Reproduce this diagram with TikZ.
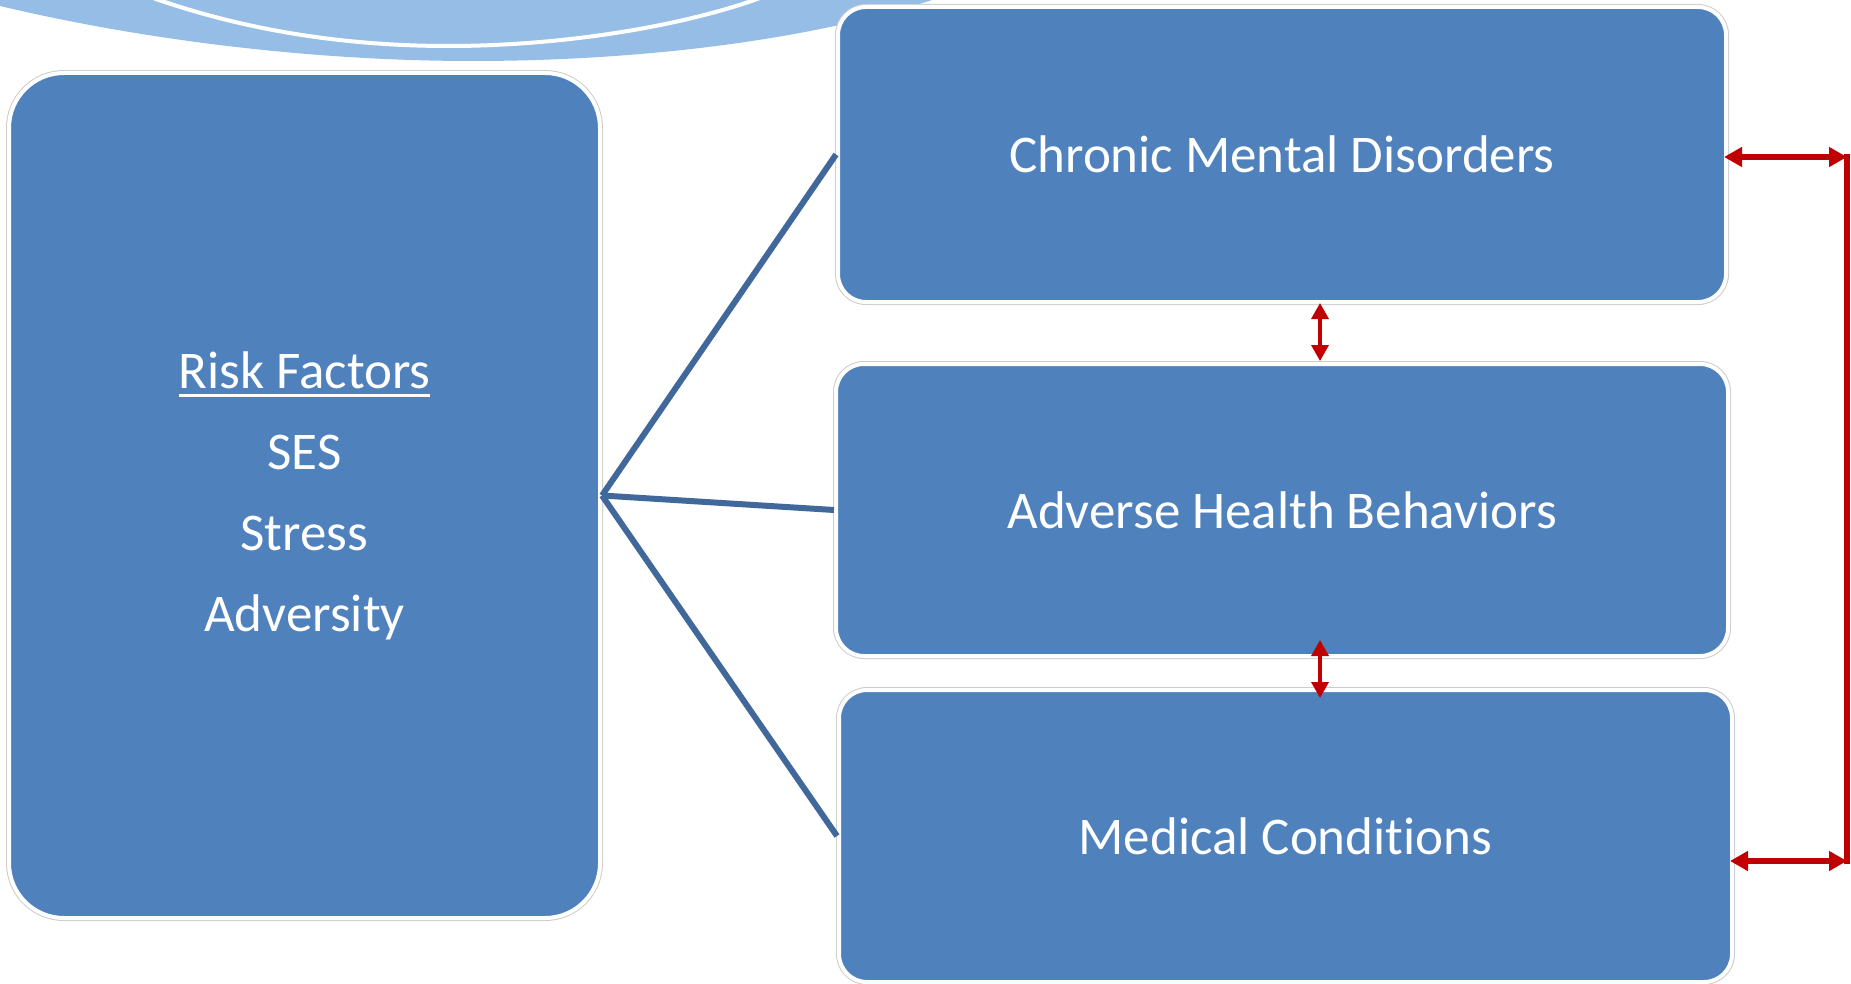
\documentclass[tikz,border=0pt]{standalone}
\usepackage{fontspec}
\setmainfont{Carlito}[Ligatures={NoCommon}]
\usetikzlibrary{arrows.meta}
\definecolor{boxblue}{HTML}{4F81BD}
\definecolor{lineblue}{HTML}{41689B}
\definecolor{arrowred}{HTML}{C00000}
\definecolor{swooshblue}{HTML}{95BDE5}
\newcommand{\thickul}[1]{\leavevmode\vtop{\hbox{#1}\kern5pt\hrule height 3pt}}
\begin{document}
\begin{tikzpicture}[x=1pt,y=-1pt,
  box/.style={rectangle, fill=boxblue, text=white, align=center,
    font=\fontsize{53}{81}\selectfont,
    preaction={draw=black!20, line width=6pt},
    draw=white, line width=4pt, inner sep=0pt},
  link/.style={draw=lineblue, line width=6pt},
  redline/.style={draw=arrowred, line width=5.5pt},
  redarrow/.style={redline, {Triangle[length=18pt,width=19pt]}-{Triangle[length=18pt,width=19pt]}},
  redvarrow/.style={draw=arrowred, line width=3.5pt, {Triangle[length=16pt,width=17pt]}-{Triangle[length=16pt,width=17pt]}}
]
\useasboundingbox (0,0) rectangle (1851,984);
% decorative swoosh
\fill[swooshblue] (0,-10) -- (0,6) .. controls (160,44) and (330,61) .. (472,61)
  .. controls (650,61) and (820,38) .. (938,-2) -- (938,-10) -- cycle;
\draw[white, line width=4pt] (153,-2) .. controls (250,32) and (350,46) .. (449,46)
  .. controls (560,46) and (680,27) .. (760,-2);
% boxes
\node[box, rounded corners=55pt, minimum width=591pt, minimum height=845pt] (risk) at (304.5,495.5)
  {\thickul{Risk Factors}\\SES\\Stress\\Adversity};
\node[box, rounded corners=28pt, minimum width=888pt, minimum height=295pt] (cmd) at (1282,154.5)
  {Chronic Mental Disorders};
\node[box, rounded corners=28pt, minimum width=892pt, minimum height=292pt] (ahb) at (1282,510)
  {Adverse Health Behaviors};
\node[box, rounded corners=28pt, minimum width=893pt, minimum height=292pt] (mc) at (1285.5,836)
  {Medical Conditions};
% blue connectors
\draw[link] (risk.east) -- (cmd.west);
\draw[link] (risk.east) -- (ahb.west);
\draw[link] (risk.east) -- (mc.west);
% red arrows
\coordinate (c1) at (1847,157);
\coordinate (c2) at (1847,861);
\draw[redline] ([yshift=2.75pt]c1) -- ([yshift=-2.75pt]c2);
\draw[redarrow] ([xshift=-4pt]c1 -| cmd.east) -- (c1);
\draw[redarrow] ([xshift=-4pt]c2 -| mc.east) -- (c2);
\draw[redvarrow] ([xshift=38pt,yshift=1pt]cmd.south) -- ([xshift=38pt,yshift=1pt]ahb.north);
\draw[redvarrow] ([xshift=38pt,yshift=18pt]ahb.south) -- ([xshift=34.5pt,yshift=-10pt]mc.north);
\end{tikzpicture}
\end{document}
